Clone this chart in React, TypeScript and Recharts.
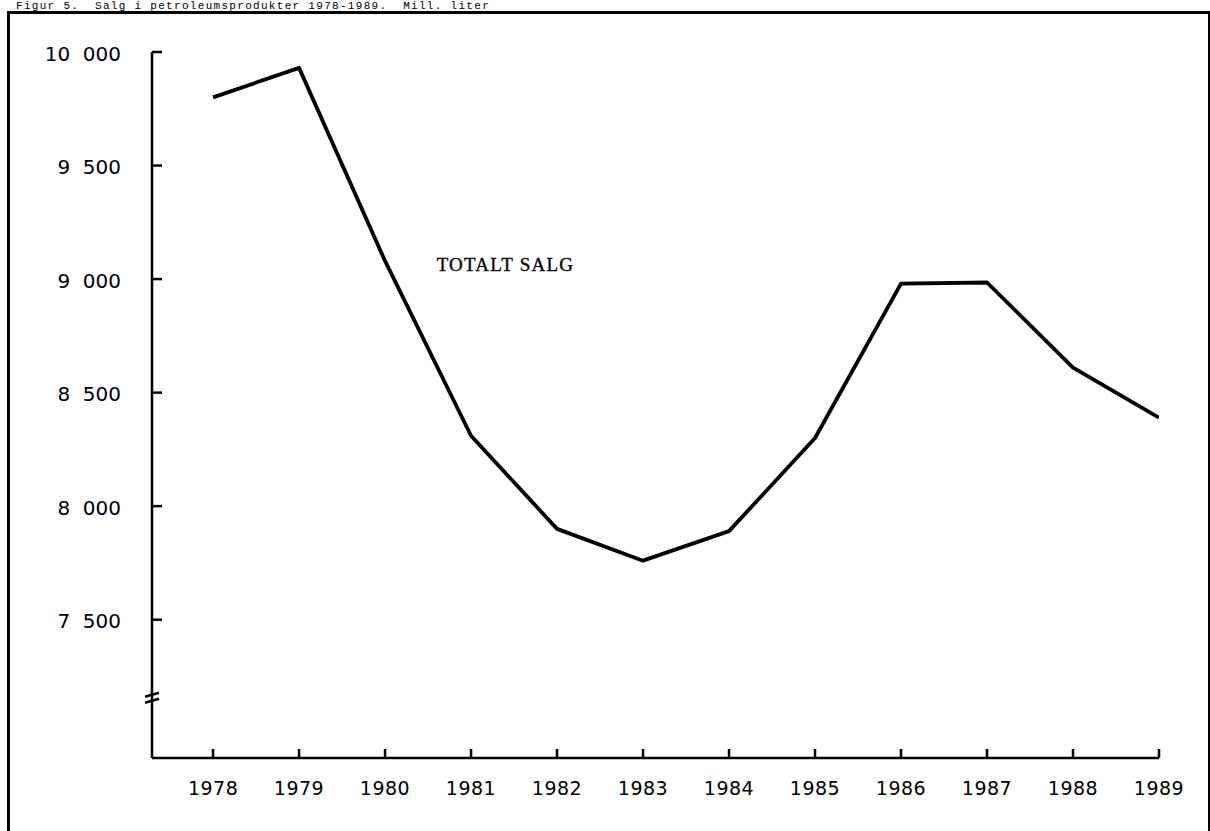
import { LineChart, Line, XAxis, YAxis, ReferenceDot } from "recharts";

const years = [1978, 1979, 1980, 1981, 1982, 1983, 1984, 1985, 1986, 1987, 1988, 1989];
const totalSales = [9800, 9930, 9080, 8310, 7900, 7760, 7890, 8300, 8980, 8985, 8610, 8390];
const yTicks = [7500, 8000, 8500, 9000, 9500, 10000];
const caption = "Figur 5.  Salg i petroleumsprodukter 1978-1989.  Mill. liter";
const seriesLabel = "TOTALT SALG";

const data = years.map((year, i) => ({ year, sales: totalSales[i] }));

const labelFont = "'DejaVu Sans', sans-serif";

const fmt = (v: number) =>
  `${Math.floor(v / 1000)}\u00a0\u00a0${String(v % 1000).padStart(3, "0")}`;

const YTick = (props: any) => {
  const { x, y, payload } = props;
  return (
    <g>
      <line x1={x} y1={y} x2={x + 10} y2={y} stroke="#000" strokeWidth={2.5} />
      <text x={x - 31} y={y + 3} textAnchor="end" dominantBaseline="middle"
        fontFamily={labelFont} fontSize={20} fill="#000">
        {fmt(payload.value)}
      </text>
    </g>
  );
};

const XTick = (props: any) => {
  const { x, y, payload } = props;
  return (
    <g>
      <line x1={x} y1={y} x2={x} y2={y - 9} stroke="#000" strokeWidth={2.5} />
      <text x={x} y={y + 31} textAnchor="middle" dominantBaseline="middle"
        fontFamily={labelFont} fontSize={19} letterSpacing={0.5} fill="#000">
        {payload.value}
      </text>
    </g>
  );
};

export default function App() {
  return (
    <div style={{ position: "fixed", left: 0, top: 0, width: 1210, height: 831, overflow: "hidden", background: "#fff" }}>
      <div style={{ position: "absolute", left: 0, top: 0 }}>
        <LineChart width={1210} height={831} data={data} margin={{ top: 52, right: 51, left: 12, bottom: 23 }}>
          <XAxis dataKey="year" type="number" domain={[1977.29, 1989]} ticks={years} allowDataOverflow
            height={50} tickSize={0} tickMargin={0} tickLine={false}
            axisLine={{ stroke: "#000", strokeWidth: 2.5 }} tick={<XTick />} interval={0} />
          <YAxis type="number" domain={[6891, 10000]} ticks={yTicks} allowDataOverflow
            width={140} tickSize={0} tickMargin={0} tickLine={false}
            axisLine={{ stroke: "#000", strokeWidth: 2.5 }} tick={<YTick />} interval={0} />
          <Line type="linear" dataKey="sales" stroke="#000" strokeWidth={3.8} dot={false}
            activeDot={false} isAnimationActive={false} strokeLinejoin="round" />
          <ReferenceDot x={1980.6} y={9054} r={0} ifOverflow="visible"
            shape={(p: any) => (
              <text x={p.cx} y={p.cy} dominantBaseline="middle" fontFamily="'Liberation Serif', serif"
                fontSize={19} letterSpacing={1.2} fill="#000" stroke="#000" strokeWidth={0.3}>
                {seriesLabel}
              </text>
            )} />
          <ReferenceDot x={1977.29} y={7156} r={0} ifOverflow="visible"
            shape={(p: any) => (
              <g stroke="#000" strokeWidth={2.5}>
                <line x1={p.cx - 7} y1={p.cy - 1} x2={p.cx + 7} y2={p.cy - 5} />
                <line x1={p.cx - 7} y1={p.cy + 5} x2={p.cx + 7} y2={p.cy + 1} />
              </g>
            )} />
        </LineChart>
      </div>
      <div style={{ position: "absolute", left: 7, top: 11, width: 1198, height: 900, borderLeft: "3px solid #000", borderTop: "3px solid #000", borderRight: "2px solid #000" }} />
      <svg width={700} height={11} style={{ position: "absolute", left: 0, top: 0, zIndex: 2 }}>
        <text x={16} y={9} fontFamily="'Liberation Mono', monospace" fontSize={11} letterSpacing={1.3} fill="#000" style={{ whiteSpace: "pre" }}>
          {caption}
        </text>
      </svg>
    </div>
  );
}
